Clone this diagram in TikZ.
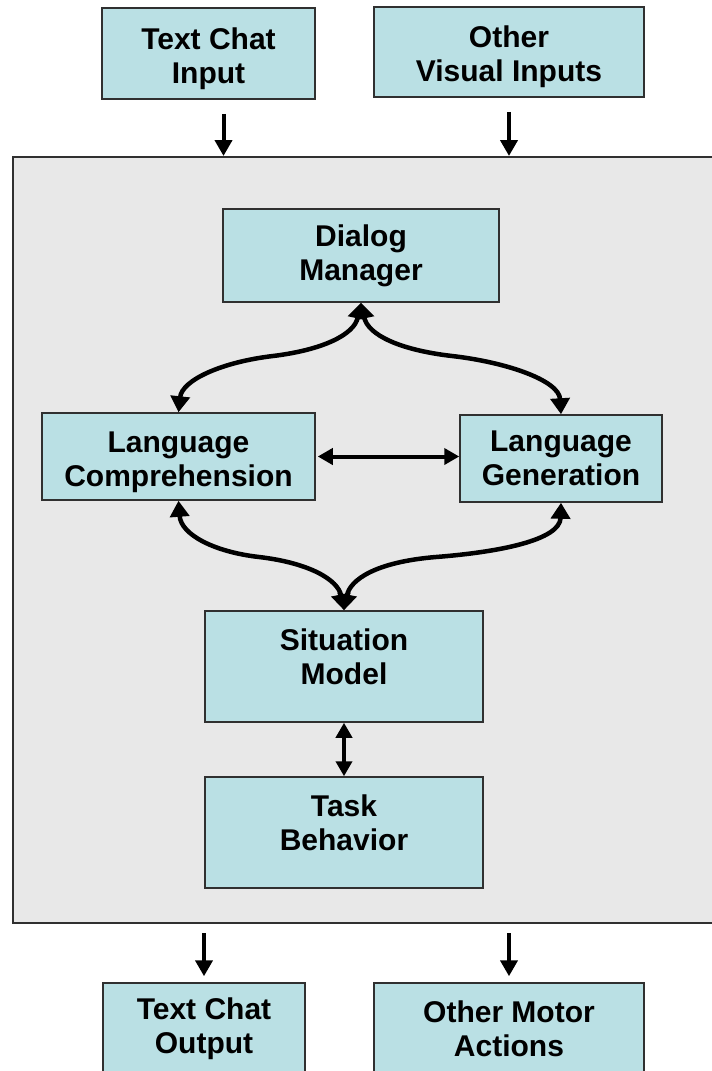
\documentclass[tikz,border=0pt]{standalone}
\usepackage{fontspec}
\setmainfont{Liberation Sans}
\usetikzlibrary{arrows.meta}
\definecolor{boxfill}{HTML}{BAE0E4}
\definecolor{panelfill}{HTML}{E8E8E8}
\definecolor{edge}{HTML}{303030}
\begin{document}
\begin{tikzpicture}[x=1pt,y=-1pt,
  box/.style={draw=edge,line width=1.5pt,fill=boxfill,inner sep=0pt,align=center,
    font=\fontsize{30pt}{34pt}\selectfont\bfseries},
  flow/.style={line width=4pt,>={Triangle[length=16pt,width=17pt]},->},
  twoway/.style={line width=4pt,>={Triangle[length=15pt,width=16pt]},<->},
  curve/.style={line width=4.5pt,>={Triangle[length=16pt,width=19pt]},<->}]
  \useasboundingbox (0,0) rectangle (712,1071);
  \clip (0,0) rectangle (712,1071);
  \node [draw=edge,line width=2pt,fill=panelfill,minimum width=707pt,minimum height=766pt] (agent) at (366.5,540) {};
  \node [box,minimum width=213pt,minimum height=91pt] (tci) at (208.5,53.5) {\mbox{}\\[-2pt]Text Chat\\Input};
  \node [box,minimum width=270pt,minimum height=90pt] (ovi) at (509,52) {\mbox{}\\[-2pt]Other\\Visual Inputs};
  \node [box,minimum width=276pt,minimum height=93pt] (dm) at (361,255.5) {Dialog\\Manager};
  \node [box,minimum width=273pt,minimum height=87pt] (lc) at (178.5,456.5) {\mbox{}\\[-2pt]Language\\Comprehension};
  \node [box,minimum width=202pt,minimum height=87pt] (lg) at (561,458.5) {Language\\Generation};
  \node [box,minimum width=278pt,minimum height=111pt] (sm) at (344,666.5) {Situation\\Model\\[-14pt]\mbox{}};
  \node [box,minimum width=278pt,minimum height=111pt] (tb) at (344,832.5) {Task\\Behavior\\[-14pt]\mbox{}};
  \node [box,minimum width=202pt,minimum height=91pt] (tco) at (204,1028.5) {Text Chat\\Output};
  \node [box,minimum width=270pt,minimum height=91pt] (oma) at (509,1028.5) {Other Motor\\Actions};
  \coordinate (tcitail) at ([xshift=15pt]tci.south);
  \draw [flow,shorten <=14pt] (tcitail) -- (tcitail |- agent.north);
  \draw [flow,shorten <=14pt] (ovi.south) -- (ovi.south |- agent.north);
  \draw [flow,shorten <=9pt,shorten >=6pt] (agent.south -| tco.north) -- (tco.north);
  \draw [flow,shorten <=9pt,shorten >=6pt] (agent.south -| oma.north) -- (oma.north);
  \draw [twoway,shorten <=2pt] (lc.east) -- (lc.east -| lg.west);
  \draw [twoway] (sm.south) -- (tb.north);
  \coordinate (uplmid) at (273,356);
  \coordinate (uprmid) at (452,356);
  \coordinate (lolmid) at (259,557);
  \coordinate (lormid) at (436,557);
  \draw [curve] (dm.south) .. controls (354,335) and (322,350) .. (uplmid) .. controls (222,362) and (182,380) .. (lc.north);
  \draw [curve] (dm.south) .. controls (368,335) and (400,350) .. (uprmid) .. controls (505,362) and (559,380) .. (lg.north);
  \draw [curve] (lc.south) .. controls (181,535) and (215,552) .. (lolmid) .. controls (310,563) and (338,580) .. (sm.north);
  \draw [curve] (lg.south) .. controls (560,540) and (500,552) .. (lormid) .. controls (375,562) and (350,580) .. (sm.north);
\end{tikzpicture}
\end{document}
